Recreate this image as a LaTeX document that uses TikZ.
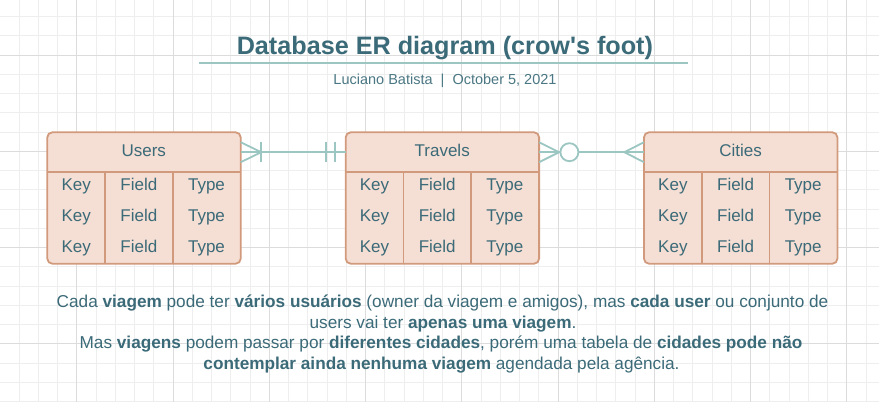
\documentclass[tikz,border=0pt]{standalone}
\usepackage{fontspec}
\setmainfont{Liberation Sans}
\usetikzlibrary{calc}
\definecolor{ink}{HTML}{3B6A78}
\definecolor{inksub}{HTML}{4A7783}
\definecolor{linkc}{HTML}{9CC6C1}
\definecolor{framec}{HTML}{D29A7C}
\definecolor{fillc}{HTML}{F5DED3}
\definecolor{gridminor}{HTML}{EEEEEE}
\definecolor{gridmajor}{HTML}{DCDCDC}
\tikzset{
  gridmin/.style={draw=gridminor, line width=0.8pt},
  gridmaj/.style={draw=gridmajor, line width=0.8pt},
  tabpart/.style={rectangle, inner sep=0pt, minimum width=193pt},
  tabframe/.style={draw=framec, line width=1.8pt, fill=fillc, rounded corners=5pt},
  tabline/.style={draw=framec, line width=1.8pt},
  cell/.style={font=\fontsize{17}{20}\selectfont, text=ink, anchor=base, inner sep=0pt},
  link/.style={draw=linkc, line width=1.8pt},
  para/.style={font=\fontsize{17.2}{20}\selectfont, text=ink, anchor=base, inner sep=0pt},
}
\newcommand\ertable[3]{%
  \node[tabpart, minimum height=39.4pt, anchor=north west] (#1h) at (#2,132.3) {};
  \node[tabpart, minimum height=91.6pt, anchor=north west] (#1b) at (#2,171.7) {};
  \draw[tabframe] (#1h.north west) rectangle (#1b.south east);
  \draw[tabline] (#1h.south west) -- (#1h.south east);
  \draw[tabline] ({#2+57.7},171.7) -- ({#2+57.7},263.3);
  \draw[tabline] ({#2+125.4},171.7) -- ({#2+125.4},263.3);
  \node[cell] (#1t) at ({#2+96.5},156) {#3};
  \foreach \r/\yy in {1/190.7,2/221.7,3/252.7} {
    \node[cell] (#1k\r) at ({#2+28.85},\yy) {Key};
    \node[cell] (#1f\r) at ({#2+91.55},\yy) {Field};
    \node[cell] (#1y\r) at ({#2+159.2},\yy) {Type};
  }
}
\begin{document}
\begin{tikzpicture}[x=1pt,y=-1pt]
\useasboundingbox (0,0) rectangle (879,402);
\fill[white] (0,0) rectangle (879,402);
% grid
\foreach \i in {0,...,46} \draw[gridmin] ({-0.3+19.25*\i},0) -- ({-0.3+19.25*\i},402);
\foreach \i in {0,...,20} \draw[gridmin] (0,{16.5+19.25*\i}) -- (879,{16.5+19.25*\i});
\foreach \i in {0,...,8} \draw[gridmaj] ({76.7+96.25*\i},0) -- ({76.7+96.25*\i},402);
\foreach \i in {0,...,3} \draw[gridmaj] (0,{55+96.25*\i}) -- (879,{55+96.25*\i});
% title
\node[font=\bfseries\fontsize{25.2}{30}\selectfont, text=ink, anchor=base, inner sep=0pt] (title) at (444.9,54.3) {Database ER diagram (crow\textquotesingle s foot)};
\draw[draw=linkc, line width=2pt] (199,63.3) -- (687.7,63.3);
\node[font=\fontsize{14.5}{17}\selectfont, text=inksub, anchor=base, inner sep=0pt] (subtitle) at (445,84.3) {Luciano Batista\ \ |\ \ October 5, 2021};
% tables
\ertable{users}{47.3}{Users}
\ertable{travels}{345.7}{Travels}
\ertable{cities}{644}{Cities}
% Users -- Travels
\draw[link] (usersh.east) -- (travelsh.west);
\draw[link] ($(usersh.east)+(0,-10)$) -- ($(usersh.east)+(20.5,0)$) -- ($(usersh.east)+(0,10)$);
\draw[link] ($(usersh.east)+(20.5,-10.5)$) -- ($(usersh.east)+(20.5,10)$);
\draw[link] ($(travelsh.west)+(-20,-10)$) -- ($(travelsh.west)+(-20,10)$);
\draw[link] ($(travelsh.west)+(-10.4,-10)$) -- ($(travelsh.west)+(-10.4,10)$);
% Travels -- Cities
\node[circle, draw=linkc, line width=1.8pt, fill=white, minimum size=18pt, inner sep=0pt] (zero) at ($(travelsh.east)+(30.3,0)$) {};
\draw[link] (travelsh.east) -- (zero.west);
\draw[link] (zero.east) -- (citiesh.west);
\draw[link] ($(travelsh.east)+(0,-10)$) -- ($(travelsh.east)+(20,0)$) -- ($(travelsh.east)+(0,10)$);
\draw[link] ($(citiesh.west)+(0,-10)$) -- ($(citiesh.west)+(-19.7,0)$) -- ($(citiesh.west)+(0,10)$);
% text
\node[para] (p1) at (442.5,307) {Cada \textbf{viagem} pode ter \textbf{vários usuários} (owner da viagem e amigos), mas \textbf{cada user} ou conjunto de};
\node[para] (p2) at (443,328) {users vai ter \textbf{apenas uma viagem}.};
\node[para] (p3) at (441,348.7) {Mas \textbf{viagens} podem passar por \textbf{diferentes cidades}, porém uma tabela de \textbf{cidades pode não}};
\node[para] (p4) at (441.5,369.5) {\textbf{contemplar ainda nenhuma viagem} agendada pela agência.};
\end{tikzpicture}
\end{document}
